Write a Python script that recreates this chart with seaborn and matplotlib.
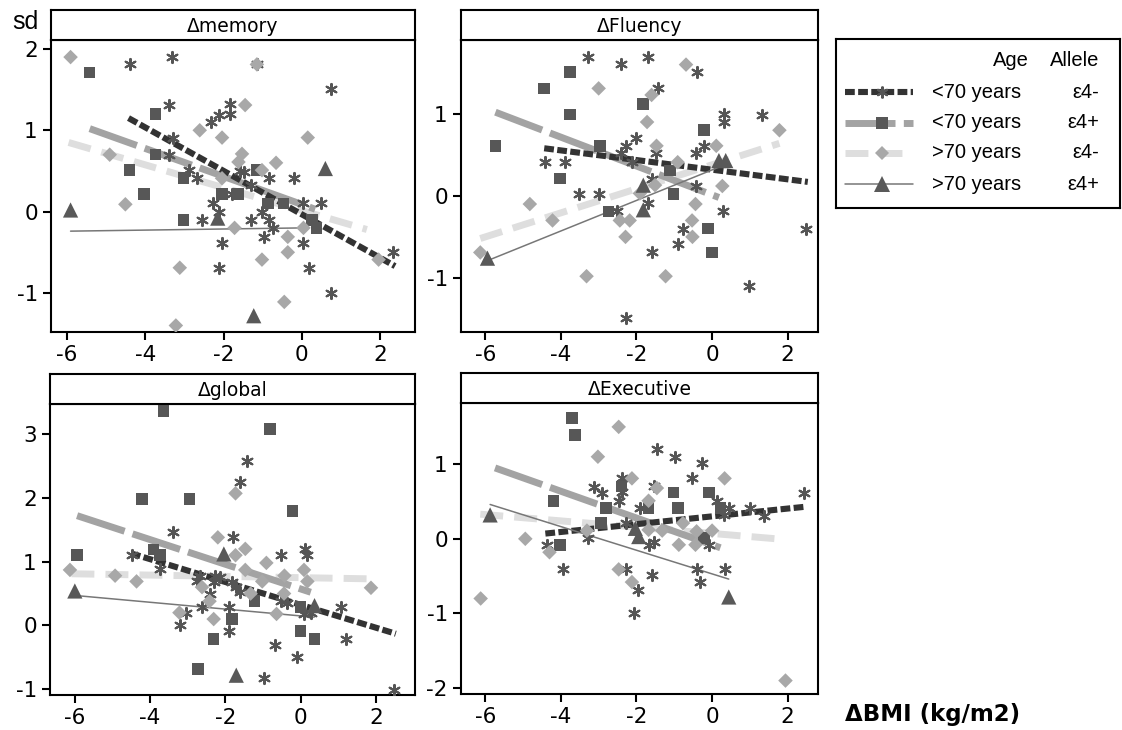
import matplotlib
matplotlib.use("Agg")
import matplotlib.pyplot as plt
import seaborn as sns

# ---- data ------------------------------------------------------------------
# groups: g1 = <70 years e4-, g2 = <70 years e4+, g3 = >70 years e4-, g4 = >70 years e4+
panel_titles = ["Δmemory", "ΔFluency", "Δglobal", "ΔExecutive"]
age_labels = ["<70 years", "<70 years", ">70 years", ">70 years"]
allele_labels = ["ε4-", "ε4+", "ε4-", "ε4+"]
x_ticks = [-6, -4, -2, 0, 2]

# memory
memory_g1_x = [-4.38, -3.32, -3.40, -3.29, -3.40, -2.89, -2.68, -2.32, -2.13, -1.83, -1.83, -2.26,
               -2.13, -2.55, -2.04, -2.13, -1.79, -1.57, -1.49, -1.30, -1.30, -1.02, -0.98, -0.85,
               -0.85, -0.74, -0.21, 0.04, 0.49, 0.04, 0.17, 0.75, 0.75, 2.34, -1.15]
memory_g1_y = [1.81, 1.90, 1.31, 0.91, 0.70, 0.51, 0.41, 1.10, 1.19, 1.32, 1.20, 0.10,
               0.00, -0.10, -0.39, -0.69, 0.22, 0.50, 0.49, 0.33, -0.10, 0.00, -0.31, -0.10,
               0.41, -0.20, 0.41, 0.10, 0.10, -0.39, -0.69, 1.51, -1.00, -0.50, 1.81]
memory_g2_x = [-5.43, -3.74, -3.74, -4.40, -4.04, -3.02, -3.02, -2.04, -1.64, -1.15, -0.87, -0.47, 0.26, 0.37]
memory_g2_y = [1.71, 1.20, 0.70, 0.51, 0.22, 0.41, -0.10, 0.22, 0.22, 0.51, 0.10, 0.10, -0.10, -0.20]
memory_g3_x = [-5.91, -4.91, -4.51, -3.12, -3.22, -2.61, -2.04, -1.45, -1.53, -1.62, -1.15, -1.02,
               -0.66, -1.72, -1.02, -0.36, -0.36, -0.45, 0.15, 0.04, 1.96, -2.04]
memory_g3_y = [1.90, 0.70, 0.09, -0.69, -1.40, 1.00, 0.91, 1.31, 0.71, 0.61, 1.81, 0.51,
               0.60, -0.20, -0.59, -0.31, -0.50, -1.11, 0.91, -0.20, -0.59, 0.41]
memory_g4_x = [-5.91, -2.15, -1.23, 0.60]
memory_g4_y = [0.02, -0.08, -1.28, 0.53]
# fitted lines: [x start, x end, y start, y end] for g1..g4
memory_fit = [[-4.43, 2.38, 1.15, -0.67], [-5.42, 0.34, 1.02, 0.03],
              [-5.96, 1.66, 0.85, -0.22], [-5.91, 0.04, -0.24, -0.20]]

# fluency
fluency_g1_x = [-3.29, -2.40, -1.69, -0.40, -1.42, 0.31, 0.31, 1.32, -4.42, -3.88, -3.51, -2.98,
                -2.29, -2.00, -2.40, -2.13, -1.48, -1.58, -0.43, -0.22, -0.43, -2.51, -1.69, 0.28,
                -0.77, -0.91, -1.58, 0.98, -2.27, 2.49]
fluency_g1_y = [1.69, 1.61, 1.69, 1.51, 1.31, 1.00, 0.90, 0.99, 0.41, 0.41, 0.02, 0.02,
                0.61, 0.71, 0.52, 0.41, 0.52, 0.21, 0.52, 0.61, 0.12, -0.19, -0.09, -0.19,
                -0.40, -0.59, -0.69, -1.10, -1.49, -0.40]
fluency_g2_x = [-5.73, -4.44, -3.75, -3.75, -4.02, -2.96, -2.74, -1.82, -1.11, -1.02, -0.22, -0.11, 0.00]
fluency_g2_y = [0.61, 1.31, 1.51, 0.99, 0.21, 0.61, -0.19, 1.12, 0.31, 0.02, 0.80, -0.40, -0.69]
fluency_g3_x = [-6.13, -4.82, -4.22, -3.32, -3.00, -2.44, -2.18, -2.29, -1.72, -1.60, -1.47, -1.51,
                -1.23, -0.91, -0.69, -0.44, -0.53, -0.52, 0.11, 0.27, 1.78, -1.91]
fluency_g3_y = [-0.69, -0.10, -0.30, -0.98, 1.31, -0.30, -0.30, -0.50, 0.90, 1.23, 0.61, 0.13,
                -0.98, 0.41, 1.60, -0.10, -0.30, -0.50, 0.61, 0.12, 0.80, 0.03]
fluency_g4_x = [-5.94, -1.82, -1.82, 0.18, 0.36]
fluency_g4_y = [-0.76, 0.13, -0.17, 0.43, 0.43]
fluency_fit = [[-4.44, 2.53, 0.58, 0.17], [-5.73, 0.18, 1.02, -0.02],
               [-6.13, 1.78, -0.52, 0.64], [-5.94, 0.18, -0.79, 0.35]]

# global
global_g1_x = [-1.42, -1.60, -3.40, -1.80, -4.49, -3.75, 0.11, 0.18, -0.52, -2.68, -2.27, -2.13,
               -2.76, -2.31, -1.82, -1.71, -1.62, -2.40, -2.62, -1.91, -3.04, -3.20, -0.53, -0.37,
               0.09, 0.27, 1.08, -1.91, -0.67, -0.09, 1.20, -0.98, 2.49]
global_g1_y = [2.57, 2.25, 1.46, 1.38, 1.11, 0.89, 1.20, 1.10, 1.10, 0.78, 0.78, 0.76,
               0.70, 0.68, 0.68, 0.60, 0.52, 0.50, 0.29, 0.29, 0.20, 0.00, 0.39, 0.35,
               0.18, 0.19, 0.29, -0.09, -0.31, -0.50, -0.22, -0.82, -1.01]
global_g2_x = [-5.94, -3.64, -4.22, -2.95, -3.91, -3.73, -2.73, -2.31, -1.82, -1.23, -0.82, -0.22, 0.00, 0.00, 0.37]
global_g2_y = [1.10, 3.36, 1.98, 1.98, 1.19, 1.10, -0.68, -0.21, 0.10, 0.38, 3.08, 1.79, 0.29, -0.09, -0.21]
global_g3_x = [-6.13, -4.93, -4.36, -3.22, -2.62, -2.42, -2.31, -2.20, -1.73, -1.73, -1.47, -1.47,
               -1.33, -1.02, -0.91, -0.64, -0.43, -0.44, 0.09, 0.18, 1.87]
global_g3_y = [0.87, 0.78, 0.69, 0.20, 0.60, 0.38, 0.10, 1.38, 2.07, 1.10, 1.20, 0.87,
               0.50, 0.69, 0.98, 0.18, 0.78, 0.50, 0.87, 0.69, 0.59]
global_g4_x = [-6.00, -2.04, -1.71, 0.37]
global_g4_y = [0.54, 1.12, -0.78, 0.31]
global_fit = [[-4.51, 2.53, 1.13, -0.13], [-5.94, 0.27, 1.72, 0.52],
              [-6.09, 1.87, 0.81, 0.73], [-6.00, 0.36, 0.47, 0.13]]

# executive
executive_g1_x = [-1.46, -0.97, -0.26, -2.38, -0.53, -3.13, -2.91, -2.38, -1.54, -2.47, -1.90, 0.13,
                  0.44, 0.31, 1.01, 1.37, 2.43, -2.29, -4.37, -3.27, -1.54, -1.68, -0.09, -3.93,
                  -2.29, -1.59, -0.40, 0.35, -0.31, -1.97, -2.07]
executive_g1_y = [1.21, 1.09, 1.01, 0.81, 0.81, 0.70, 0.62, 0.63, 0.71, 0.51, 0.41, 0.51,
                  0.41, 0.32, 0.41, 0.30, 0.61, 0.21, -0.08, 0.01, -0.04, -0.08, -0.08, -0.41,
                  -0.41, -0.48, -0.41, -0.41, -0.58, -0.69, -1.00]
executive_g2_x = [-3.71, -3.62, -4.19, -4.03, -2.81, -2.93, -2.40, -1.68, -1.02, -0.90, -0.09, 0.22, -0.22]
executive_g2_y = [1.62, 1.39, 0.51, -0.08, 0.41, 0.21, 0.70, 0.41, 0.62, 0.41, 0.62, 0.41, 0.01]
executive_g3_x = [-6.12, -4.94, -4.30, -3.31, -3.02, -2.47, -2.47, -2.12, -2.12, -1.68, -1.68, -1.46,
                  -1.32, -0.88, -0.77, -0.44, -0.41, 0.00, 0.33, 1.94]
executive_g3_y = [-0.80, 0.00, -0.18, 0.11, 1.10, 1.50, -0.41, 0.81, -0.58, 0.51, 0.12, 0.68,
                  0.11, -0.08, 0.21, -0.08, 0.10, 0.11, 0.81, -1.90]
executive_g4_x = [-5.87, -2.03, -1.94, 0.44]
executive_g4_y = [0.32, 0.14, 0.03, -0.78]
executive_fit = [[-4.41, 2.47, 0.07, 0.43], [-5.74, 0.22, 0.95, -0.12],
                 [-6.13, 1.94, 0.33, -0.01], [-5.87, 0.44, 0.46, -0.54]]

# ---- styles -------------------------------------------------------------------
STYLE = [
    dict(marker=(6, 2, 0), s=64, mcolor="#555555", ms=8.5, mew=1.5,
         lcolor="#333333", lw=4.4, ls=(0, (1.6, 0.55))),
    dict(marker="s", s=70, mcolor="#575757", ms=8.4, mew=0,
         lcolor="#a3a3a3", lw=5.0, ls=(0, (7.2, 1.2))),
    dict(marker="D", s=55, mcolor="#a8a8a8", ms=7.4, mew=0,
         lcolor="#dedede", lw=5.0, ls=(0, (3.3, 1.6))),
    dict(marker="^", s=120, mcolor="#595959", ms=11, mew=0,
         lcolor="#777777", lw=1.1, ls="-"),
]
LINE_ORDER = [2, 1, 0, 3]

W, H = 1122, 730
sns.set_style("ticks")
plt.rcParams["font.family"] = ["DejaVu Sans"]
plt.rcParams["axes.unicode_minus"] = False
for key in ["text.color", "axes.labelcolor", "xtick.color", "ytick.color"]:
    plt.rcParams[key] = "black"
LEG_FONT = ["Liberation Sans", "DejaVu Sans"]

fig = plt.figure(figsize=(W / 100, H / 100), dpi=100)


def px_axes(x0, y0, x1, y1):
    return fig.add_axes([x0 / W, 1 - y1 / H, (x1 - x0) / W, (y1 - y0) / H])


def frame(ax):
    for sp in ax.spines.values():
        sp.set_visible(True)
        sp.set_color("black")
        sp.set_linewidth(1.5)


panels = [
    dict(box=(51, 40, 415, 332), xlim=(-6.41, 2.89), ylim=(-1.48, 2.11), yticks=[-1, 0, 1, 2],
         pts=[(memory_g1_x, memory_g1_y), (memory_g2_x, memory_g2_y),
              (memory_g3_x, memory_g3_y), (memory_g4_x, memory_g4_y)], fit=memory_fit),
    dict(box=(461, 40, 818, 332), xlim=(-6.64, 2.8), ylim=(-1.66, 1.90), yticks=[-1, 0, 1],
         pts=[(fluency_g1_x, fluency_g1_y), (fluency_g2_x, fluency_g2_y),
              (fluency_g3_x, fluency_g3_y), (fluency_g4_x, fluency_g4_y)], fit=fluency_fit),
    dict(box=(50, 404, 415, 695), xlim=(-6.66, 3.04), ylim=(-1.09, 3.47), yticks=[-1, 0, 1, 2, 3],
         pts=[(global_g1_x, global_g1_y), (global_g2_x, global_g2_y),
              (global_g3_x, global_g3_y), (global_g4_x, global_g4_y)], fit=global_fit),
    dict(box=(461, 403, 818, 694), xlim=(-6.64, 2.8), ylim=(-2.08, 1.82), yticks=[-2, -1, 0, 1],
         pts=[(executive_g1_x, executive_g1_y), (executive_g2_x, executive_g2_y),
              (executive_g3_x, executive_g3_y), (executive_g4_x, executive_g4_y)], fit=executive_fit),
]

for title, p in zip(panel_titles, panels):
    x0, y0, x1, y1 = p["box"]
    ax = px_axes(x0, y0, x1, y1)
    hd = px_axes(x0, y0 - 30, x1, y0)

    # fit lines first, markers on top
    for g in LINE_ORDER:
        st = STYLE[g]
        fx0, fx1, fy0, fy1 = p["fit"][g]
        sns.lineplot(x=[fx0, fx1], y=[fy0, fy1], ax=ax, color=st["lcolor"],
                     linewidth=st["lw"], linestyle=st["ls"], zorder=2)
    for g, (gx, gy) in enumerate(p["pts"]):
        st = STYLE[g]
        if g == 0:
            sns.scatterplot(x=gx, y=gy, ax=ax, marker=st["marker"], s=st["s"],
                            color=st["mcolor"], linewidth=st["mew"], zorder=3)
        else:
            sns.scatterplot(x=gx, y=gy, ax=ax, marker=st["marker"], s=st["s"],
                            color=st["mcolor"], edgecolor="none", linewidth=0, zorder=3)

    ax.set_xlim(*p["xlim"])
    ax.set_ylim(*p["ylim"])
    ax.set_xticks(x_ticks)
    ax.set_yticks(p["yticks"])
    ax.set_xlabel("")
    ax.set_ylabel("")
    ax.tick_params(direction="out", length=6, width=1.5, labelsize=15.5, colors="black")
    frame(ax)

    hd.set_xticks([])
    hd.set_yticks([])
    hd.text(0.5, 0.45, title, ha="center", va="center", fontsize=13.5, transform=hd.transAxes)
    frame(hd)

# ---- legend -------------------------------------------------------------------
lg = px_axes(836, 39, 1120, 208)
lg.set_xlim(836, 1120)
lg.set_ylim(208, 39)
lg.set_xticks([])
lg.set_yticks([])
frame(lg)
lg.text(1029, 60, "Age", ha="right", va="center", fontsize=14.5, family=LEG_FONT)
lg.text(1099, 60, "Allele", ha="right", va="center", fontsize=14.5, family=LEG_FONT)
row_y = [92, 123, 153, 184]
for g in range(4):
    st = STYLE[g]
    y = row_y[g]
    lg.plot([845, 913], [y, y], color=st["lcolor"], linewidth=st["lw"], linestyle=st["ls"])
    lg.plot([882], [y], marker=st["marker"], ms=st["ms"], mew=st["mew"],
            color=st["mcolor"], ls="none")
    lg.text(932, y, age_labels[g], ha="left", va="center", fontsize=14.5, family=LEG_FONT)
    lg.text(1099, y, allele_labels[g], ha="right", va="center", fontsize=14.5, family=LEG_FONT)

fig.text(12 / W, 1 - 29 / H, "sd", fontsize=18, family=LEG_FONT, va="baseline")
fig.text(845 / W, 1 - 714 / H, "ΔBMI (kg/m2)", fontsize=16.5, fontweight="bold", va="center")

fig.savefig("out.png", dpi=100)
